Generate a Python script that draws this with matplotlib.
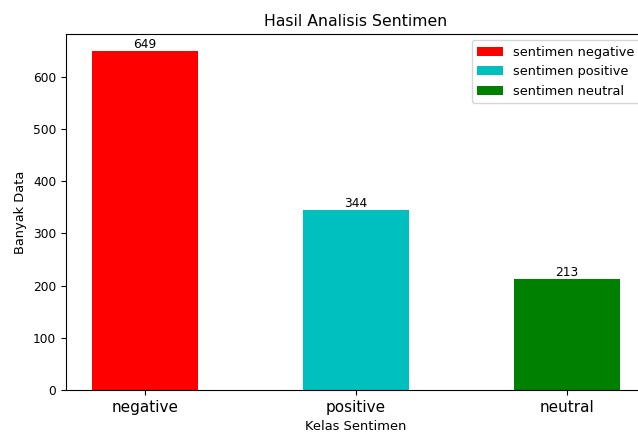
import numpy as np
import matplotlib
matplotlib.use("Agg")
import matplotlib.pyplot as plt

# data
kelas = ["negative", "positive", "neutral"]
jumlah = [649, 344, 213]
warna = ["r", "c", "g"]
legenda = ["sentimen negative", "sentimen positive", "sentimen neutral"]

fig = plt.figure(figsize=(6.38, 4.32), dpi=100)
ax = fig.add_axes([66/638, 42/432, 580/638, 356/432])

x = np.arange(len(kelas))
for i in range(len(kelas)):
    ax.bar(x[i], jumlah[i], width=0.5, color=warna[i], label=legenda[i])
    ax.text(x[i], jumlah[i], str(jumlah[i]), ha="center", va="bottom", fontsize=8.8)

ax.set_xticks(x)
ax.set_xticklabels(kelas, fontsize=11)
ax.tick_params(axis="y", labelsize=8.8)
ax.set_xlabel("Kelas Sentimen", fontsize=9.4)
ax.set_ylabel("Banyak Data", fontsize=9.4)
ax.set_title("Hasil Analisis Sentimen", fontsize=11.3)
ax.legend(loc="upper right", fontsize=9.3)

fig.savefig("out.png", dpi=100)
